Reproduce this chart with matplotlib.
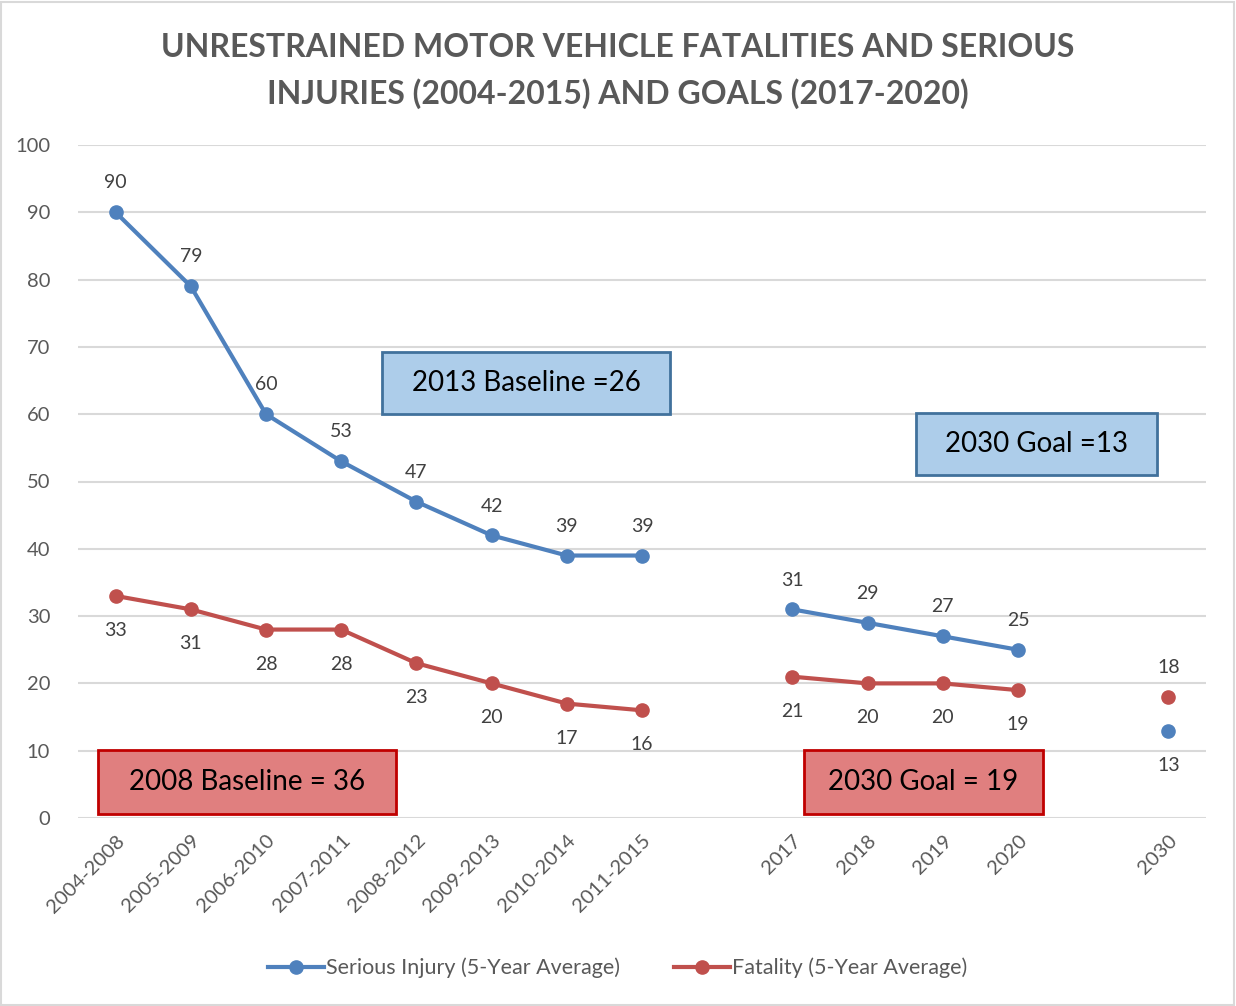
import numpy as np
import matplotlib
matplotlib.use("Agg")
import matplotlib.pyplot as plt
from matplotlib.patches import Rectangle

# ---------------------------------------
# Data
# ---------------------------------------
categories = ["2004-2008", "2005-2009", "2006-2010", "2007-2011", "2008-2012",
              "2009-2013", "2010-2014", "2011-2015", "",
              "2017", "2018", "2019", "2020", "", "2030"]
serious_injury = [90, 79, 60, 53, 47, 42, 39, 39, np.nan, 31, 29, 27, 25, np.nan, 13]
fatality = [33, 31, 28, 28, 23, 20, 17, 16, np.nan, 21, 20, 20, 19, np.nan, 18]

title = "UNRESTRAINED MOTOR VEHICLE FATALITIES AND SERIOUS\nINJURIES (2004-2015) AND GOALS (2017-2020)"

BLUE = "#4F81BD"
RED = "#C0504D"
GREY = "#595959"

plt.rcParams["font.family"] = ["Lato", "DejaVu Sans"]

W, H = 1236, 1006
fig = plt.figure(figsize=(W / 100, H / 100), dpi=100)
ax = fig.add_axes([78 / W, 1 - 818 / H, (1206 - 78) / W, (818 - 145) / H])

x = np.arange(len(categories))

ax.plot(x, serious_injury, color=BLUE, lw=3, marker="o", ms=9.5,
        label="Serious Injury (5-Year Average)", zorder=3)
ax.plot(x, fatality, color=RED, lw=3, marker="o", ms=9.5,
        label="Fatality (5-Year Average)", zorder=3)

# data labels
for i in range(len(x)):
    if not np.isnan(serious_injury[i]):
        off = -31 if i == 14 else 15
        ax.annotate(f"{serious_injury[i]:.0f}", (x[i], serious_injury[i]),
                    xytext=(0, off), textcoords="offset points", ha="center",
                    va="bottom", fontsize=14, color="#404040")
    if not np.isnan(fatality[i]):
        off = 15 if i == 14 else -31
        ax.annotate(f"{fatality[i]:.0f}", (x[i], fatality[i]),
                    xytext=(0, off), textcoords="offset points", ha="center",
                    va="bottom", fontsize=14, color="#404040")

ax.set_xlim(-0.5, len(categories) - 0.5)
ax.set_ylim(0, 100)
ax.set_yticks(range(0, 101, 10))
ax.set_xticks(x)
ax.set_xticklabels(categories, rotation=45, ha="right", rotation_mode="anchor")
ax.tick_params(axis="both", length=0, labelsize=14.5, labelcolor=GREY)
ax.tick_params(axis="y", pad=20)
ax.tick_params(axis="x", pad=10)
ax.grid(axis="y", color="#D9D9D9", lw=1.5)
ax.set_axisbelow(True)
for s in ax.spines.values():
    s.set_visible(False)

fig.text(0.5, 1 - 71 / H, title, ha="center", va="center", fontsize=23,
         fontweight="bold", color=GREY, linespacing=1.6)

# annotation boxes (pixel positions of the reference)
def box(x0, y0, x1, y1, text, fc, ec):
    fig.add_artist(Rectangle((x0 / W, 1 - y1 / H), (x1 - x0) / W, (y1 - y0) / H,
                             transform=fig.transFigure, facecolor=fc,
                             edgecolor=ec, lw=2, zorder=4))
    fig.text((x0 + x1) / 2 / W, 1 - (y0 + y1) / 2 / H, text, ha="center",
             va="center", fontsize=20, color="black", zorder=5)

box(382, 352, 670, 414, "2013 Baseline =26", "#ADCDEA", "#41719C")
box(916, 413, 1157, 475, "2030 Goal =13", "#ADCDEA", "#41719C")
box(98, 750, 396, 814, "2008 Baseline = 36", "#E07F7F", "#C00000")
box(804, 750, 1043, 814, "2030 Goal = 19", "#E07F7F", "#C00000")

fig.legend(loc="center", bbox_to_anchor=(0.5, 1 - 968 / H), ncol=2,
           frameon=False, fontsize=15.5, labelcolor=GREY, handlelength=2.6,
           columnspacing=2.5, handletextpad=0.1)

fig.add_artist(Rectangle((1 / W, 1 / H), 1 - 3 / W, 1 - 3 / H,
                         transform=fig.transFigure, fill=False,
                         edgecolor="#D9D9D9", lw=1.5))

plt.savefig("out.png", dpi=100)
